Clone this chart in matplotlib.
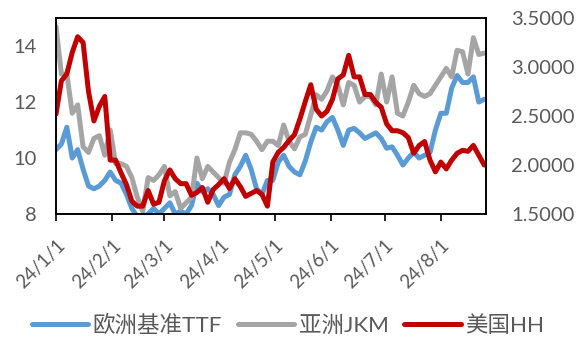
import numpy as np
import pandas as pd
import matplotlib.pyplot as plt
import matplotlib.dates as mdates

plt.rcParams['font.family'] = ['Lato', 'Noto Sans CJK SC', 'DejaVu Sans']

# sampled every 3 days from 2024-01-01
dates = pd.date_range('2024-01-01', periods=80, freq='3D')

ttf = [10.3, 10.5, 11.1, 10.0, 10.3, 9.6, 9.0, 8.9, 9.0, 9.2, 9.5, 9.2, 9.1, 8.7, 8.2, 7.9, 7.9, 8.0, 8.2, 8.0, 8.2,
       8.4, 8.0, 8.1, 8.0, 8.3, 9.1, 8.8, 8.9, 8.7, 8.3, 8.6, 8.7, 9.4, 9.7, 10.1, 9.6, 8.9, 8.7, 9.2, 9.2,
       9.85, 10.1, 9.7, 9.5, 9.4, 9.9, 10.57, 11.1, 11.0, 11.3, 11.45, 11.0, 10.45, 11.0, 11.06, 10.9, 10.7, 10.8, 10.9, 10.7,
       10.35, 10.4, 10.1, 9.75, 10.0, 10.2, 10.0, 10.1, 10.2, 11.0, 11.6, 11.6, 12.5, 12.95, 12.7, 12.7, 12.9, 12.0, 12.1]

jkm = [14.7, 13.0, 13.0, 11.6, 11.9, 10.4, 10.2, 10.7, 10.8, 10.1, 11.0, 9.8, 9.8, 9.7, 9.3, 8.6, 8.1, 9.3, 9.2, 9.4, 9.7,
       8.65, 8.8, 8.2, 8.4, 8.6, 10.0, 9.26, 9.7, 9.5, 9.3, 9.1, 9.85, 10.3, 10.9, 10.9, 10.85, 10.6, 10.3, 10.6, 10.6,
       10.45, 11.18, 10.6, 10.33, 10.75, 10.85, 11.54, 12.26, 12.1, 12.4, 12.9, 12.6, 11.9, 12.7, 12.6, 12.0, 12.2, 12.2, 11.9, 13.0,
       12.0, 12.9, 11.6, 11.5, 12.0, 12.6, 12.3, 12.2, 12.3, 12.6, 12.9, 13.2, 12.9, 13.85, 13.8, 13.0, 14.3, 13.7, 13.75]

hh = [2.52, 2.86, 2.93, 3.15, 3.31, 3.25, 2.75, 2.45, 2.60, 2.70, 2.05, 2.05, 1.92, 1.80, 1.63, 1.58, 1.58, 1.74, 1.60, 1.62, 1.84,
      1.95, 1.86, 1.81, 1.81, 1.69, 1.72, 1.77, 1.62, 1.75, 1.80, 1.86, 1.76, 1.86, 1.78, 1.68, 1.71, 1.74, 1.70, 1.58, 2.03,
      2.13, 2.18, 2.25, 2.31, 2.47, 2.65, 2.82, 2.57, 2.50, 2.55, 2.67, 2.88, 2.92, 3.12, 2.90, 2.90, 2.72, 2.72, 2.64, 2.59,
      2.42, 2.35, 2.35, 2.33, 2.28, 2.12, 2.20, 2.24, 2.05, 1.93, 2.03, 1.96, 2.05, 2.12, 2.15, 2.14, 2.20, 2.10, 2.00]

tick_dates = pd.date_range('2024-01-01', '2024-08-01', freq='MS')
left_ticks = [8, 10, 12, 14]
right_ticks = [1.5, 2.0, 2.5, 3.0, 3.5]

txt = '#595959'
lw = 3.6
style = dict(lw=lw, solid_capstyle='round', solid_joinstyle='round')

fig = plt.figure(figsize=(5.76, 3.42), dpi=100)
ax = fig.add_axes([0.0972, 0.3743, 0.7466, 0.5727])
ax2 = ax.twinx()

l1, = ax.plot(dates, ttf, color='#5B9BD5', label='欧洲基准TTF', **style)
l2, = ax.plot(dates, jkm, color='#A5A5A5', label='亚洲JKM', **style)
l3, = ax2.plot(dates, hh, color='#C00000', label='美国HH', **style)

ax.set_xlim(pd.Timestamp('2024-01-01'), pd.Timestamp('2024-08-26'))
ax.set_ylim(8, 15)
ax2.set_ylim(1.5, 3.5)
ax.set_yticks(left_ticks)
ax2.set_yticks(right_ticks)
ax2.set_yticklabels([f'{v:.4f}' for v in right_ticks])

ax.set_xticks(tick_dates)
ax.set_xticklabels([f'24/{d.month}/1' for d in tick_dates], rotation=45,
                   ha='right', va='top', rotation_mode='anchor')

ax.tick_params(axis='x', direction='out', length=5, width=1.2, colors='black',
               labelcolor=txt, labelsize=13.5, pad=11)
ax.tick_params(axis='y', length=0, labelcolor=txt, labelsize=14.5, pad=14)
ax2.tick_params(axis='y', length=0, labelcolor=txt, labelsize=14.5, pad=18)

for a in (ax, ax2):
    for s in a.spines.values():
        s.set_color('black')
        s.set_linewidth(1.2)

fig.legend(handles=[l1, l2, l3], loc='center', bbox_to_anchor=(0.5, 1 - 325 / 342),
           ncol=3, frameon=False, fontsize=16.2, labelcolor=txt,
           handlelength=2.5, handletextpad=0.2, columnspacing=0.7)

fig.savefig('out.png', dpi=100)
